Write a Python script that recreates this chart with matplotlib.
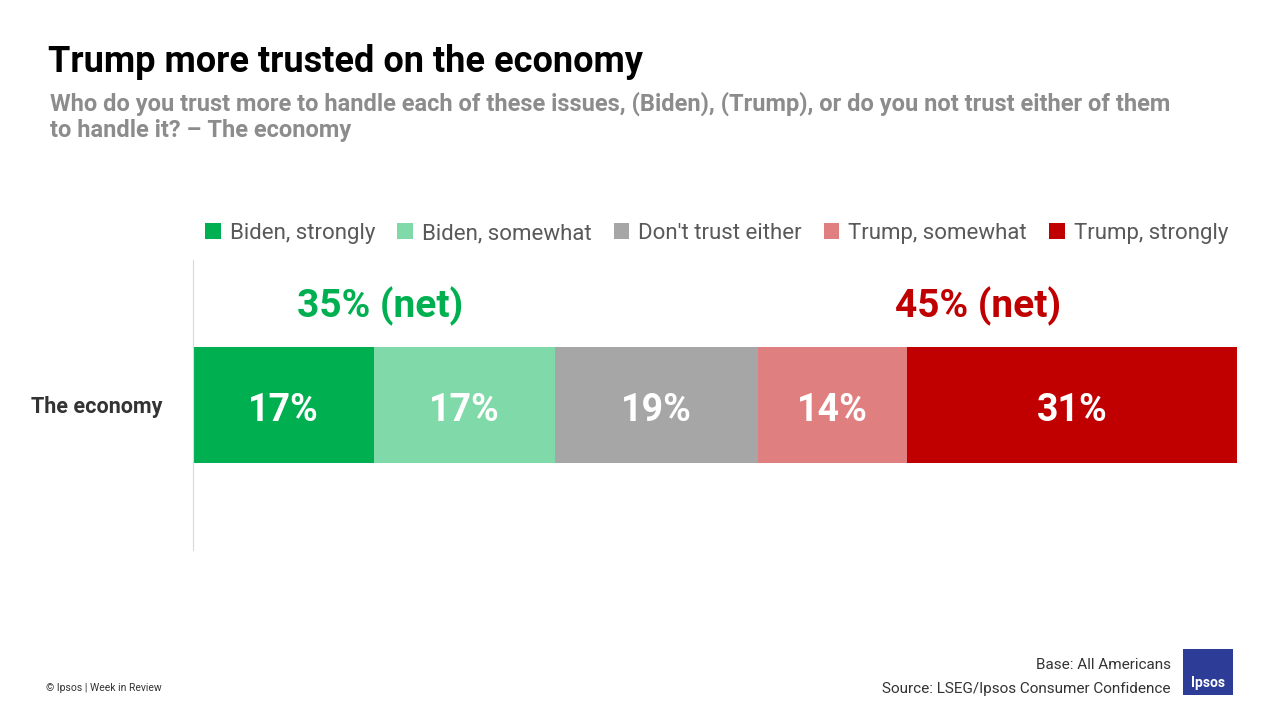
import matplotlib
matplotlib.use("Agg")
import matplotlib.pyplot as plt
from matplotlib.patches import Rectangle

plt.rcParams['font.family'] = ['Roboto', 'DejaVu Sans']

category = "The economy"
series = ["Biden, strongly", "Biden, somewhat", "Don't trust either", "Trump, somewhat", "Trump, strongly"]
values = [17, 17, 19, 14, 31]
colors = ["#00b050", "#80d9a8", "#a6a6a6", "#e07f7f", "#c00000"]
net_labels = ["35% (net)", "45% (net)"]

fig = plt.figure(figsize=(12.8, 7.2), dpi=100)
ax = fig.add_axes([193/1280, (720-550)/720, (1237-193)/1280, 290/720])
left = 0
for v, c, s in zip(values, colors, series):
    ax.barh(0, v, left=left, height=0.4, color=c, label=s)
    ax.text(left + v/2, -0.02, f"{v}%", ha='center', va='center', color='white',
            fontsize=27, fontweight='bold')
    left += v
ax.set_xlim(0, sum(values))
ax.set_ylim(-0.5, 0.5)
ax.set_xticks([])
ax.set_yticks([0])
ax.set_yticklabels([category], fontsize=15.5, fontweight='bold', color='#333333')
ax.tick_params(axis='y', length=0, pad=22)
for sp in ['top', 'right', 'bottom']:
    ax.spines[sp].set_visible(False)
ax.spines['left'].set_color('#d9d9d9')
b = values[0] + values[1]
t0 = b + values[2]
ax.text(b/2 + 0.6, 0.34, net_labels[0], ha='center', va='center', color='#00b050', fontsize=28, fontweight='bold')
ax.text(t0 + (sum(values)-t0)/2 - 1.8, 0.34, net_labels[1], ha='center', va='center', color='#c00000', fontsize=28, fontweight='bold')

leg = fig.legend(loc='upper right', bbox_to_anchor=(1248/1280, 1-203/720), ncol=5, frameon=False,
                 fontsize=16, handlelength=0.7, handleheight=0.7, handletextpad=0.4, columnspacing=1.0)
for t in leg.get_texts():
    t.set_color('#595959')

fig.text(48/1280, 1-62/720, "Trump more trusted on the economy", fontsize=26, fontweight='bold', va='center')
fig.text(50/1280, 1-104/720, "Who do you trust more to handle each of these issues, (Biden), (Trump), or do you not trust either of them",
         fontsize=17, fontweight='bold', color='#8c8c8c', va='center')
fig.text(50/1280, 1-130/720, "to handle it? – The economy", fontsize=17, fontweight='bold', color='#8c8c8c', va='center')
fig.text(46/1280, 1-688/720, "© Ipsos | Week in Review", fontsize=7.5, color='#333333', va='center')
fig.text(1171/1280, 1-665/720, "Base: All Americans", fontsize=11, color='#333333', ha='right', va='center')
fig.text(1171/1280, 1-689/720, "Source: LSEG/Ipsos Consumer Confidence", fontsize=11, color='#333333', ha='right', va='center')
fig.patches.append(Rectangle((1183/1280, 1-695/720), 50/1280, 46/720, transform=fig.transFigure,
                             facecolor='#2d3c96', edgecolor='none'))
fig.text(1208/1280, 1-683/720, "Ipsos", fontsize=10, color='white', fontweight='bold', ha='center', va='center')
fig.savefig("out.png")
